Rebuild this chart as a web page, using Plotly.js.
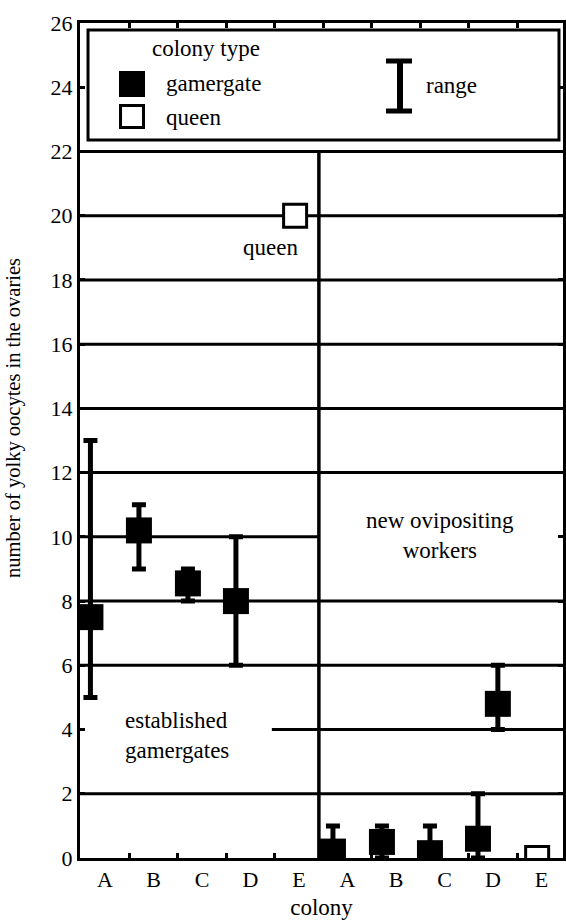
<!DOCTYPE html>
<html><head><meta charset="utf-8">
<script src="https://cdn.plot.ly/plotly-3.0.1.min.js"></script>
<style>html,body{margin:0;padding:0;background:#fff}</style>
</head><body><div id="chart" style="width:566px;height:920px"></div>
<script>
// ---- data ----
const tickLabels = ['A','B','C','D','E','A','B','C','D','E'];
const slot       = [0, 1, 2, 3, 4, 5, 6, 7, 8, 8, 9];
const colonyType = ['gamergate','gamergate','gamergate','gamergate','queen',
                    'gamergate','gamergate','gamergate','gamergate','gamergate','queen'];
const oocytes    = [7.5, 10.2, 8.55, 8.0, 20, 0.2, 0.5, 0.15, 0.6, 4.8, 0];
const rangeLow   = [5, 9, 8, 6, null, 0, 0, 0, 0, 4, null];
const rangeHigh  = [13, 11, 9, 10, null, 1, 1, 1, 2, 6, null];
const yTicks     = [0,2,4,6,8,10,12,14,16,18,20,22,24,26];
const gridLevels = [2,4,6,8,10,12,14,16,18,20,22];
const boundaries = [0.5,1.5,2.5,3.5,4.5,5.5,6.5,7.5,8.5];

// ---- layout helpers (not data) ----
const dodge = [-0.3,-0.3,-0.29,-0.3,-0.08,-0.3,-0.29,-0.3,-0.31,0.1,-0.09];
const xRange = [-0.515, 9.443];
const divider = 4.41;
const FONT = 'Liberation Serif';

function build(type){
  const idx = colonyType.map((t,i)=>t===type?i:-1).filter(i=>i>=0);
  const x = idx.map(i=>slot[i]+dodge[i]);
  const y = idx.map(i=>oocytes[i]);
  const up = idx.map(i=>rangeHigh[i]==null?null:rangeHigh[i]-oocytes[i]);
  const dn = idx.map(i=>rangeLow[i]==null?null:oocytes[i]-rangeLow[i]);
  const t = {
    type:'scatter', mode:'markers', x, y, name:type, showlegend:false,
    hoverinfo:'skip', cliponaxis:true
  };
  if(type==='gamergate'){
    t.marker = {symbol:'square', size:26, color:'black', line:{width:0}};
    t.error_y = {type:'data', symmetric:false, array:up, arrayminus:dn,
                 thickness:5, width:7, color:'black'};
  } else {
    t.marker = {symbol:'square', size:23, color:'white', line:{color:'black', width:3}};
  }
  return t;
}

const shapes = [];
gridLevels.forEach(v=>{
  let s = {type:'line', layer:'below', line:{color:'black', width:3}, y0:v, y1:v, yref:'y'};
  if(v===4){ s.xref='x'; s.x0=3.44; s.x1=xRange[1]; }
  else if(v===10){ s.xref='x'; s.x0=xRange[0]; s.x1=divider; }
  else { s.xref='paper'; s.x0=0; s.x1=1; }
  shapes.push(s);
});
shapes.push({type:'line', layer:'below', xref:'x', yref:'y', x0:divider, x1:divider, y0:0, y1:22,
             line:{color:'black', width:3.5}});
// legend box
shapes.push({type:'rect', xref:'paper', yref:'paper', x0:0.0166, x1:0.9917, y0:0.8599, y1:0.9916,
             line:{color:'black', width:3}, fillcolor:'rgba(0,0,0,0)'});
shapes.push({type:'rect', xref:'paper', yref:'paper', x0:0.0807, x1:0.1346, y0:0.9114, y1:0.9425,
             line:{width:0}, fillcolor:'black'});
shapes.push({type:'rect', xref:'paper', yref:'paper', x0:0.0839, x1:0.1315, y0:0.8749, y1:0.9012,
             line:{color:'black', width:3}, fillcolor:'white'});
shapes.push({type:'line', xref:'paper', yref:'paper', x0:0.6625, x1:0.6625, y0:0.8946, y1:0.9545,
             line:{color:'black', width:6}});
shapes.push({type:'line', xref:'paper', yref:'paper', x0:0.6335, x1:0.6874, y0:0.9545, y1:0.9545,
             line:{color:'black', width:5}});
shapes.push({type:'line', xref:'paper', yref:'paper', x0:0.6335, x1:0.6874, y0:0.8946, y1:0.8946,
             line:{color:'black', width:5}});

const txt = (s)=>({family:FONT, size:s, color:'black'});
const annotations = [
  {text:'colony type', xref:'paper', yref:'paper', x:0.145, y:0.9689, xanchor:'left', yanchor:'middle', showarrow:false, font:txt(23)},
  {text:'gamergate', xref:'paper', yref:'paper', x:0.1739, y:0.9281, xanchor:'left', yanchor:'middle', showarrow:false, font:txt(23)},
  {text:'queen', xref:'paper', yref:'paper', x:0.1739, y:0.8874, xanchor:'left', yanchor:'middle', showarrow:false, font:txt(23)},
  {text:'range', xref:'paper', yref:'paper', x:0.7122, y:0.9257, xanchor:'left', yanchor:'middle', showarrow:false, font:txt(23)},
  {text:'queen', xref:'x', yref:'y', x:3.42, y:19.0, showarrow:false, font:txt(23)},
  {text:'established<br>gamergates', xref:'x', yref:'y', x:1.485, y:3.83, showarrow:false, align:'left', font:txt(23)},
  {text:'new ovipositing<br>workers', xref:'x', yref:'y', x:6.91, y:10.05, showarrow:false, align:'center', font:txt(23)},
  {text:'number of yolky oocytes in the ovaries', xref:'paper', yref:'paper', x:-0.1366, y:0.527,
   xanchor:'center', yanchor:'middle', textangle:-90, showarrow:false, font:txt(20.5)}
];

const layout = {
  width:566, height:920,
  margin:{l:80, r:3, t:23, b:62, pad:0},
  paper_bgcolor:'white', plot_bgcolor:'white',
  showlegend:false,
  font:{family:FONT, color:'black', size:22},
  xaxis:{
    range:xRange, tickmode:'array', tickvals:[0,1,2,3,4,5,6,7,8,9], ticktext:tickLabels,
    ticks:'', showline:true, linewidth:3, linecolor:'black', mirror:'ticks',
    minor:{tickmode:'array', tickvals:boundaries, ticks:'inside', ticklen:5, tickwidth:3, tickcolor:'black', showgrid:false},
    showgrid:false, zeroline:false, automargin:false,
    tickfont:txt(22),
    title:{text:'colony', font:txt(23), standoff:12}
  },
  yaxis:{
    range:[0,26], tickmode:'array', tickvals:yTicks,
    ticks:'inside', ticklen:5, tickwidth:3, tickcolor:'black',
    showline:true, linewidth:3, linecolor:'black', mirror:'ticks',
    showgrid:false, zeroline:false, automargin:false,
    tickfont:txt(22)
  },
  shapes, annotations
};

Plotly.newPlot('chart', [build('gamergate'), build('queen')], layout, {staticPlot:true, displayModeBar:false});
</script>
</body></html>
